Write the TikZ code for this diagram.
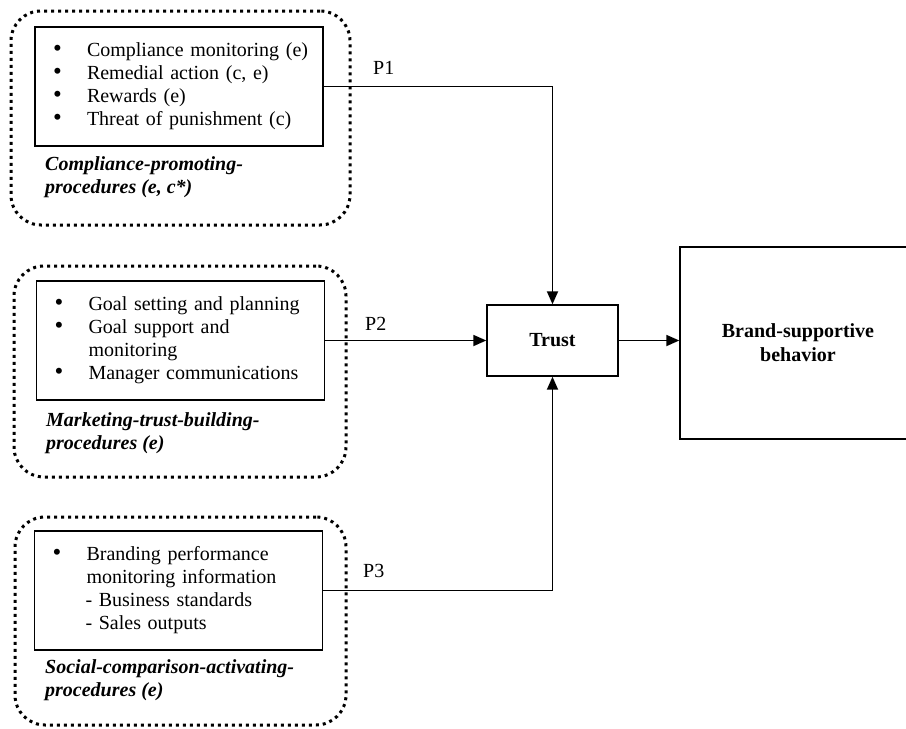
\documentclass[tikz,border=0pt]{standalone}
\usepackage{fontspec}
\setmainfont{Liberation Serif}
\usetikzlibrary{arrows.meta}
\newcommand{\bitem}[1]{\mbox{\makebox[34pt][l]{\smash{\scalebox{1.25}{\textbullet}}}#1}}
\newcommand{\contline}[2][34pt]{\mbox{\hspace*{#1}#2}}
\begin{document}
\begin{tikzpicture}[x=1pt,y=-1pt,
  obox/.style={draw, line width=3pt, dash pattern=on 3pt off 4pt, rounded corners=30pt, inner sep=0pt},
  ibox/.style={draw, line width=1.4pt, inner ysep=0pt, inner xsep=18pt, text width=252pt, align=left, minimum height=119pt, font=\fontsize{20}{23}\selectfont},
  lab/.style={inner sep=0pt, align=left, anchor=north west, font=\fontsize{20}{23}\selectfont\bfseries\itshape},
  plab/.style={inner sep=0pt, anchor=base west, font=\fontsize{20}{23}\selectfont},
  bbox/.style={draw, line width=1.4pt, align=center, font=\fontsize{20}{24}\selectfont\bfseries},
  conn/.style={line width=1.8pt, -{Triangle[length=13pt,width=11pt]}}
]
\clip (0,0) rectangle (906,729);
\fill[white] (0,0) rectangle (906,729);

% dotted groups
\node[obox, minimum width=339pt, minimum height=214pt] (o1) at (180.5,118) {};
\node[obox, minimum width=332pt, minimum height=211pt] (o2) at (180,371.5) {};
\node[obox, minimum width=331pt, minimum height=208pt] (o3) at (180.5,621) {};

% inner boxes
\node[ibox] (b1) at (179,86.5) {\bitem{Compliance monitoring (e)}\\\bitem{Remedial action (c, e)}\\\bitem{Rewards (e)}\\\bitem{Threat of punishment (c)}};
\node[ibox] (b2) at (180.5,340.5) {\bitem{Goal setting and planning}\\\bitem{Goal support and}\\\contline{monitoring}\\\bitem{Manager communications}};
\node[ibox] (b3) at (178.5,590.5) {\bitem{Branding performance}\\\contline{monitoring information}\\\contline[33pt]{- Business standards}\\\contline[33pt]{- Sales outputs}};

% group labels
\node[lab] (l1) at (45,156) {Compliance-promoting-\\procedures (e, c*)};
\node[lab] (l2) at (46,412) {Marketing-trust-building-\\procedures (e)};
\node[lab] (l3) at (45,659) {Social-comparison-activating-\\procedures (e)};

% outcome boxes
\node[bbox, minimum width=131pt, minimum height=71pt] (trust) at (552.5,340.5) {Trust};
\node[bbox, minimum width=236pt, minimum height=192pt] (brand) at (798,343) {Brand-supportive\\behavior};

% path labels
\node[plab] (p1) at (373,74) {P1};
\node[plab] (p2) at (365,330) {P2};
\node[plab] (p3) at (363,577) {P3};

% connectors
\draw[conn] (b1.east) -| (trust.north);
\draw[conn] (b2.east) -- (b2.east -| trust.west);
\draw[conn] (b3.east) -| (trust.south);
\draw[conn] (trust.east) -- (trust.east -| brand.west);
\end{tikzpicture}
\end{document}
